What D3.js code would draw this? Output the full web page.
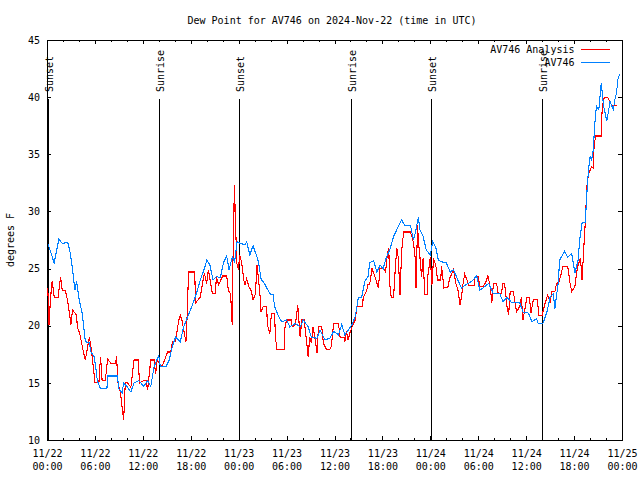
<!DOCTYPE html>
<html>
<head>
<meta charset="utf-8">
<script src="https://cdn.jsdelivr.net/npm/d3@7"></script>
<style>
  html, body { margin: 0; padding: 0; background: #fff; }
  svg { display: block; }
  text { font-family: "DejaVu Sans Mono", "Liberation Mono", monospace; font-size: 10px; fill: #000; }
</style>
</head>
<body>
<svg id="chart" width="640" height="480"></svg>
<script>
// ---- data ----
const titleText = "Dew Point for AV746 on 2024-Nov-22 (time in UTC)";
const yLabelText = "degrees F";
const seriesNames = ["AV746 Analysis", "AV746"];
const seriesColors = ["#ff0000", "#0080ff"];
const yTicks = [10, 15, 20, 25, 30, 35, 40, 45];

// hours since 2024-11-22 00:00 UTC
const analysisHours = [0.1,0.25,0.45,0.65,0.9,1.4,1.7,1.9,2.3,2.6,3.0,3.2,3.7,3.8,4.1,4.5,4.8,5.3,5.5,5.8,6.0,6.5,6.7,6.9,7.3,7.6,8.0,8.6,8.7,8.9,9.2,9.45,9.6,9.8,10.1,10.5,10.9,11.4,11.6,12.1,12.4,12.6,12.9,13.0,13.4,13.6,13.8,14.4,15.1,15.5,15.7,16.1,16.3,16.5,16.7,16.9,17.2,17.4,17.5,17.65,17.75,18.5,18.6,19.2,19.4,19.7,20.0,20.2,20.5,20.7,21.1,21.2,21.5,22.0,22.5,22.7,23.0,23.1,23.2,23.25,23.3,23.4,23.45,23.5,23.6,23.75,24.0,24.1,24.3,24.5,24.6,24.8,25.0,25.3,25.6,25.8,26.1,26.3,26.5,26.7,26.8,27.1,27.5,27.6,27.9,28.1,28.5,28.6,28.8,29.7,29.8,30.0,30.6,30.7,31.1,31.4,31.7,31.9,32.2,32.4,32.7,32.9,33.1,33.3,33.6,33.8,34.0,34.4,34.6,35.0,35.4,35.6,35.9,36.5,36.7,37.2,37.3,37.5,37.7,37.9,38.2,38.6,38.8,39.5,39.6,40.0,40.2,40.4,40.7,40.9,41.2,41.5,41.7,42.1,42.4,42.6,42.8,42.9,43.1,43.4,43.6,43.8,44.0,44.2,44.4,44.5,44.7,45.5,45.7,45.9,46.1,46.2,46.4,46.5,46.7,46.9,47.1,47.3,47.6,47.7,48.0,48.2,48.4,48.7,48.9,49.3,49.4,49.7,50.2,50.4,50.9,51.2,51.5,51.7,51.9,52.1,52.3,52.6,52.8,53.5,53.6,54.0,54.2,54.6,55.0,55.2,55.5,55.7,55.9,56.3,56.5,56.9,57.1,57.3,57.6,57.8,58.0,58.4,58.6,58.8,59.2,59.4,59.6,59.9,60.1,60.4,60.6,60.9,61.4,61.6,62.0,62.3,62.7,63.0,63.2,63.6,63.8,64.1,64.4,64.6,65.2,65.5,65.7,66.1,66.3,66.5,66.8,67.0,67.2,67.4,67.6,67.8,68.0,68.2,68.4,68.5,68.7,69.4,69.5,69.7,70.2,70.5,70.7,71.4];
const analysisValues = [23.3,20.1,22.5,23.9,22.5,22.5,24.3,23.1,23.1,22.1,20.1,21.4,20.9,19.9,19.3,17.9,17.0,19.0,18.2,16.4,15.0,15.0,17.3,15.2,15.2,17.1,16.7,16.7,17.35,15.0,14.1,12.6,11.75,15.0,15.0,14.6,17.0,17.0,15.0,15.2,15.2,14.4,16.4,17.0,17.0,15.8,17.0,16.4,17.7,17.7,18.6,18.6,19.6,20.5,20.9,20.5,19.3,18.6,19.9,23.1,24.7,24.7,22.0,22.5,23.4,24.6,23.7,24.9,23.7,22.8,22.8,24.3,23.6,24.35,24.35,23.1,22.8,21.1,20.1,24.9,26.0,29.25,32.3,31.3,29.4,25.5,24.9,26.2,25.75,24.9,24.1,23.6,24.1,23.4,23.0,22.25,22.8,25.3,24.0,22.4,21.2,21.7,21.7,20.1,19.3,21.1,21.1,19.0,17.9,17.9,19.9,20.5,20.5,19.9,20.1,21.8,19.0,20.5,20.5,19.3,17.3,19.0,18.5,19.9,18.75,17.6,19.9,19.9,18.5,17.9,17.9,18.2,20.2,20.2,19.0,19.0,18.6,19.5,18.75,19.3,19.9,20.5,21.7,21.7,22.5,23.0,23.6,23.6,25.0,24.6,24.0,23.3,25.0,25.0,24.7,26.2,26.8,23.7,22.5,22.5,24.9,26.8,25.9,22.7,26.3,27.35,28.2,28.2,27.8,27.2,25.9,23.3,28.8,27.5,26.0,24.3,25.9,22.7,22.7,24.4,26.0,23.6,25.9,25.2,24.0,24.0,25.2,23.3,23.4,24.1,24.9,23.7,23.0,21.8,22.5,23.7,24.5,24.0,23.5,23.5,24.3,24.3,23.4,23.4,23.9,24.4,23.4,22.0,23.7,23.7,22.8,22.8,23.7,23.7,21.7,20.9,23.0,23.0,22.0,21.2,21.7,22.5,20.5,21.7,22.5,22.5,21.1,22.3,22.3,20.9,20.9,21.8,22.7,22.0,23.0,23.0,23.7,23.8,24.6,25.2,25.2,23.7,23.0,23.4,24.6,25.3,25.9,24.0,26.6,29.0,32.2,33.3,33.6,33.9,33.8,35.7,36.6,36.6,38.7,39.9,40.0,39.6,39.3,39.3];

const stationHours = [0.1,0.9,1.5,1.9,2.6,2.9,3.2,3.5,3.7,4.0,4.4,4.6,4.8,5.3,5.5,5.9,6.1,6.3,6.7,7.5,7.6,8.8,9.0,9.4,9.6,10.1,10.5,10.9,11.5,12.1,12.6,13.0,13.4,14.0,14.2,14.9,15.3,15.7,16.1,16.7,17.1,17.7,18.3,18.7,19.2,19.8,20.0,20.4,20.8,21.2,21.7,22.1,22.5,22.8,23.2,23.5,23.8,24.2,24.8,25.0,25.4,25.8,26.3,26.5,26.8,27.3,27.9,28.3,28.5,29.0,29.4,30.0,30.4,31.1,31.7,32.1,32.7,33.1,33.8,34.2,34.8,35.4,35.9,36.5,36.9,37.3,37.7,38.2,38.6,39.0,39.4,39.8,40.2,40.4,40.9,41.3,41.7,42.1,42.5,42.9,43.4,43.8,44.4,44.8,45.5,45.9,46.2,46.5,46.7,47.1,47.5,48.0,48.3,48.7,49.0,49.4,50.0,50.5,50.9,51.5,51.9,52.5,53.2,53.8,54.2,54.6,55.3,55.9,56.7,57.1,57.6,58.2,59.2,59.6,60.3,60.7,61.3,61.5,62.1,62.6,63.0,63.4,63.6,64.0,64.2,64.8,65.2,65.7,66.1,66.5,66.7,67.0,67.4,67.6,67.8,68.0,68.2,68.4,68.6,68.8,69.1,69.4,69.7,70.1,70.5,70.9,71.1,71.3,71.5,71.7];
const stationValues = [27.2,25.5,27.6,27.2,27.3,26.4,24.9,23.1,23.9,22.4,21.1,19.9,18.6,18.5,17.7,17.3,16.4,15.2,14.5,14.5,15.6,15.6,14.5,14.1,15.0,14.6,14.2,15.0,15.2,14.7,15.2,14.7,16.4,17.4,16.4,16.4,17.0,18.2,19.0,18.6,19.9,20.9,22.0,22.8,24.0,25.2,25.75,25.3,24.0,24.3,24.2,25.5,26.1,24.9,26.0,25.6,27.35,27.2,27.1,27.35,26.2,27.0,26.0,25.5,24.1,23.6,22.8,22.7,21.7,20.8,20.35,20.5,19.9,20.2,19.9,20.5,19.9,19.0,18.9,19.6,18.75,18.9,19.5,19.2,20.1,19.2,19.6,20.1,20.8,22.5,22.5,23.9,24.3,25.5,25.7,24.7,25.3,25.0,26.0,26.6,27.8,28.4,29.25,28.8,28.8,27.5,28.4,29.5,28.4,27.8,26.6,26.2,27.35,26.8,25.75,25.6,25.5,24.7,24.9,23.9,23.3,23.6,23.9,24.35,23.1,23.3,23.7,22.8,22.8,22.1,22.5,22.0,22.0,21.2,21.1,20.35,20.6,20.2,20.2,21.2,22.5,22.8,21.5,23.7,25.75,26.5,26.0,26.3,24.6,25.75,27.5,29.0,29.0,31.6,33.6,34.8,34.5,35.4,37.7,39.2,38.9,41.2,39.2,37.9,39.6,38.9,39.75,40.3,41.6,42.0];

// sunrise / sunset markers (hours since start)
const eventHours = [0.17, 14.05, 24.15, 38.13, 48.2, 62.1];
const eventLabels = ["Sunset", "Sunrise", "Sunset", "Sunrise", "Sunset", "Sunrise"];

// ---- chart ----
const W = 640, H = 480;
const m = { left: 47, right: 18, top: 40, bottom: 40 };
const startMs = Date.UTC(2024, 10, 22);
const HOUR = 3600000;
const toDate = h => new Date(startMs + h * HOUR);

const svg = d3.select("#chart");
const x = d3.scaleUtc()
  .domain([toDate(0), toDate(72)])
  .range([m.left, W - m.right]);
const y = d3.scaleLinear()
  .domain([10, 45])
  .range([H - m.bottom, m.top]);

const x0 = m.left, x1 = W - m.right, y0 = m.top, y1 = H - m.bottom;

// title
svg.append("text")
  .attr("x", 332).attr("y", 23.5)
  .attr("text-anchor", "middle")
  .text(titleText);

// y label
svg.append("text")
  .attr("transform", `translate(13.5,${(y0 + y1) / 2}) rotate(-90)`)
  .attr("text-anchor", "middle")
  .text(yLabelText);

const axisG = svg.append("g").attr("shape-rendering", "crispEdges");

// left axis
const left = axisG.append("g").attr("transform", `translate(${x0},0)`)
  .call(d3.axisLeft(y).tickValues(yTicks).tickSize(-4).tickPadding(7).tickFormat(d3.format("d")));
// right axis (ticks only)
axisG.append("g").attr("transform", `translate(${x1},0)`)
  .call(d3.axisRight(y).tickValues(yTicks).tickSize(-4).tickFormat(""));

// bottom axis major ticks with two-line labels
const majorTicks = d3.utcHour.every(6).range(toDate(0), toDate(72.01));
const minorTicks = d3.utcHour.every(2).range(toDate(0), toDate(72.01));
const fmtDay = d3.utcFormat("%m/%d");
const fmtTime = d3.utcFormat("%H:%M");

const bottom = axisG.append("g").attr("transform", `translate(0,${y1})`)
  .call(d3.axisBottom(x).tickValues(majorTicks).tickSize(-4).tickFormat(""));
bottom.selectAll(".tick").each(function(d) {
  const t = d3.select(this).append("text")
    .attr("text-anchor", "middle")
    .attr("fill", "#000");
  t.append("tspan").attr("x", 0).attr("y", 16.6).text(fmtDay(d));
  t.append("tspan").attr("x", 0).attr("y", 30.3).text(fmtTime(d));
});
axisG.append("g").attr("transform", `translate(0,${y1})`)
  .call(d3.axisBottom(x).tickValues(minorTicks).tickSize(-2).tickFormat(""));
// top axis
axisG.append("g").attr("transform", `translate(0,${y0})`)
  .call(d3.axisTop(x).tickValues(majorTicks).tickSize(-4).tickFormat(""));
axisG.append("g").attr("transform", `translate(0,${y0})`)
  .call(d3.axisTop(x).tickValues(minorTicks).tickSize(-2).tickFormat(""));

axisG.selectAll(".domain").remove();
axisG.selectAll(".tick line").attr("stroke", "#000");
left.selectAll("text").attr("fill", "#000").style("font-size", "10px");

// border
axisG.append("rect")
  .attr("x", x0).attr("y", y0)
  .attr("width", x1 - x0).attr("height", y1 - y0)
  .attr("fill", "none").attr("stroke", "#000");

// sunrise/sunset lines
const ev = svg.append("g");
eventHours.forEach((h, i) => {
  const ex = x(toDate(h));
  ev.append("line")
    .attr("x1", ex).attr("x2", ex)
    .attr("y1", y0 + 59).attr("y2", y1)
    .attr("stroke", "#000").attr("shape-rendering", "crispEdges");
  ev.append("text")
    .attr("transform", `translate(${ex + 1},${y0 + 52}) rotate(-90)`)
    .attr("dy", "0.35em")
    .attr("text-anchor", "start")
    .text(eventLabels[i]);
});

// data lines
const line = d3.line()
  .x(d => x(toDate(d[0])))
  .y(d => y(d[1]));

const series = [
  d3.zip(analysisHours, analysisValues),
  d3.zip(stationHours, stationValues)
];
series.forEach((pts, i) => {
  svg.append("path")
    .datum(pts)
    .attr("d", line)
    .attr("fill", "none")
    .attr("stroke", seriesColors[i])
    .attr("stroke-width", 1.1)
    .attr("stroke-linejoin", "miter")
    .attr("shape-rendering", "crispEdges");
});

// legend
const lg = svg.append("g");
seriesNames.forEach((name, i) => {
  const ly = 49.5 + i * 12.8;
  lg.append("text")
    .attr("x", 574.5).attr("y", ly).attr("dy", "0.35em")
    .attr("text-anchor", "end")
    .text(name);
  lg.append("line")
    .attr("x1", 581).attr("x2", 610)
    .attr("y1", ly).attr("y2", ly)
    .attr("stroke", seriesColors[i]).attr("stroke-width", 1.1)
    .attr("shape-rendering", "crispEdges");
});
</script>
</body>
</html>
